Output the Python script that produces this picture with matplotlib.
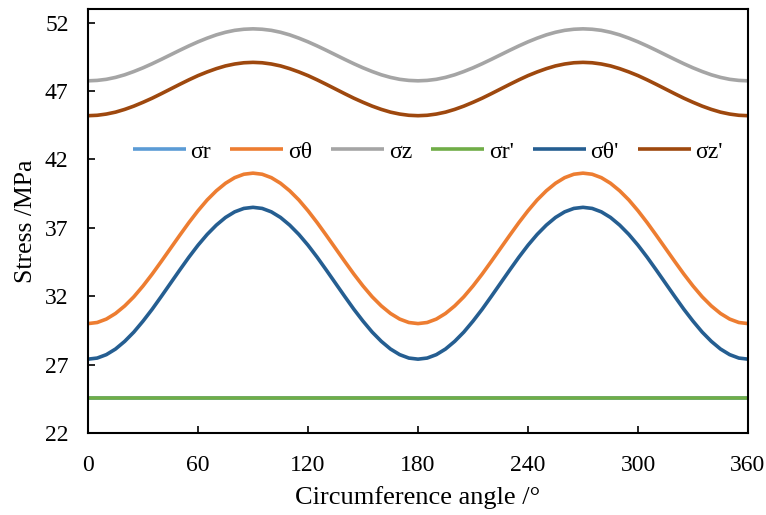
import matplotlib
matplotlib.use("Agg")
import matplotlib.pyplot as plt

# ---- Data (every 5 degrees) ----
angle = list(range(0, 361, 5))

sigma_r = [24.55] * 73
sigma_theta = [
    30.0, 30.08, 30.33, 30.74, 31.29, 31.96, 32.75, 33.62, 34.55, 35.5,
    36.45, 37.38, 38.25, 39.04, 39.71, 40.26, 40.67, 40.92, 41.0,
    40.92, 40.67, 40.26, 39.71, 39.04, 38.25, 37.38, 36.45, 35.5,
    34.55, 33.62, 32.75, 31.96, 31.29, 30.74, 30.33, 30.08, 30.0,
    30.08, 30.33, 30.74, 31.29, 31.96, 32.75, 33.62, 34.55, 35.5,
    36.45, 37.38, 38.25, 39.04, 39.71, 40.26, 40.67, 40.92, 41.0,
    40.92, 40.67, 40.26, 39.71, 39.04, 38.25, 37.38, 36.45, 35.5,
    34.55, 33.62, 32.75, 31.96, 31.29, 30.74, 30.33, 30.08, 30.0]
sigma_z = [
    47.75, 47.78, 47.86, 48.0, 48.19, 48.43, 48.7, 49.0, 49.32, 49.65,
    49.98, 50.3, 50.6, 50.87, 51.11, 51.3, 51.44, 51.52, 51.55,
    51.52, 51.44, 51.3, 51.11, 50.87, 50.6, 50.3, 49.98, 49.65,
    49.32, 49.0, 48.7, 48.43, 48.19, 48.0, 47.86, 47.78, 47.75,
    47.78, 47.86, 48.0, 48.19, 48.43, 48.7, 49.0, 49.32, 49.65,
    49.98, 50.3, 50.6, 50.87, 51.11, 51.3, 51.44, 51.52, 51.55,
    51.52, 51.44, 51.3, 51.11, 50.87, 50.6, 50.3, 49.98, 49.65,
    49.32, 49.0, 48.7, 48.43, 48.19, 48.0, 47.86, 47.78, 47.75]
sigma_r2 = [24.55] * 73
sigma_theta2 = [
    27.4, 27.48, 27.73, 28.14, 28.7, 29.38, 30.18, 31.05, 31.99, 32.95,
    33.91, 34.85, 35.73, 36.52, 37.2, 37.76, 38.17, 38.42, 38.5,
    38.42, 38.17, 37.76, 37.2, 36.52, 35.73, 34.85, 33.91, 32.95,
    31.99, 31.05, 30.18, 29.38, 28.7, 28.14, 27.73, 27.48, 27.4,
    27.48, 27.73, 28.14, 28.7, 29.38, 30.18, 31.05, 31.99, 32.95,
    33.91, 34.85, 35.73, 36.52, 37.2, 37.76, 38.17, 38.42, 38.5,
    38.42, 38.17, 37.76, 37.2, 36.52, 35.73, 34.85, 33.91, 32.95,
    31.99, 31.05, 30.18, 29.38, 28.7, 28.14, 27.73, 27.48, 27.4]
sigma_z2 = [
    45.2, 45.23, 45.32, 45.46, 45.66, 45.9, 46.18, 46.48, 46.81, 47.15,
    47.49, 47.82, 48.13, 48.4, 48.64, 48.84, 48.98, 49.07, 49.1,
    49.07, 48.98, 48.84, 48.64, 48.4, 48.13, 47.82, 47.49, 47.15,
    46.81, 46.48, 46.18, 45.9, 45.66, 45.46, 45.32, 45.23, 45.2,
    45.23, 45.32, 45.46, 45.66, 45.9, 46.18, 46.48, 46.81, 47.15,
    47.49, 47.82, 48.13, 48.4, 48.64, 48.84, 48.98, 49.07, 49.1,
    49.07, 48.98, 48.84, 48.64, 48.4, 48.13, 47.82, 47.49, 47.15,
    46.81, 46.48, 46.18, 45.9, 45.66, 45.46, 45.32, 45.23, 45.2]

series = [
    ("σr", sigma_r, "#5B9BD5"),
    ("σθ", sigma_theta, "#ED7D31"),
    ("σz", sigma_z, "#A5A5A5"),
    ("σr'", sigma_r2, "#70AD47"),
    ("σθ'", sigma_theta2, "#255E91"),
    ("σz'", sigma_z2, "#9E480E"),
]

x_ticks = [0, 60, 120, 180, 240, 300, 360]
y_ticks = [22, 27, 32, 37, 42, 47, 52]

plt.rcParams["font.family"] = ["Liberation Serif", "DejaVu Serif"]

fig = plt.figure(figsize=(7.66, 5.15), dpi=100)
ax = fig.add_axes([0.1149, 0.1592, 0.8616, 0.8233])

for name, vals, color in series:
    ax.plot(angle, vals, color=color, lw=2.6, label=name, solid_capstyle="butt")

ax.set_xlim(0, 360)
ax.set_ylim(22, 53)
ax.set_xticks(x_ticks)
ax.set_yticks(y_ticks)
ax.tick_params(direction="in", length=5, width=1.2, labelsize=17)
ax.tick_params(axis="x", pad=16)
ax.tick_params(axis="y", pad=14)
for sp in ax.spines.values():
    sp.set_linewidth(1.5)

ax.set_xlabel("Circumference angle /°", fontsize=19, labelpad=7)
ax.set_ylabel("Stress /MPa", fontsize=18.5, labelpad=6)

ax.legend(loc="center", bbox_to_anchor=(0.515, 0.663), ncol=6, frameon=False,
          fontsize=17, handlelength=2.25, columnspacing=0.8, handletextpad=0.2)

fig.savefig("out.png", dpi=100)
